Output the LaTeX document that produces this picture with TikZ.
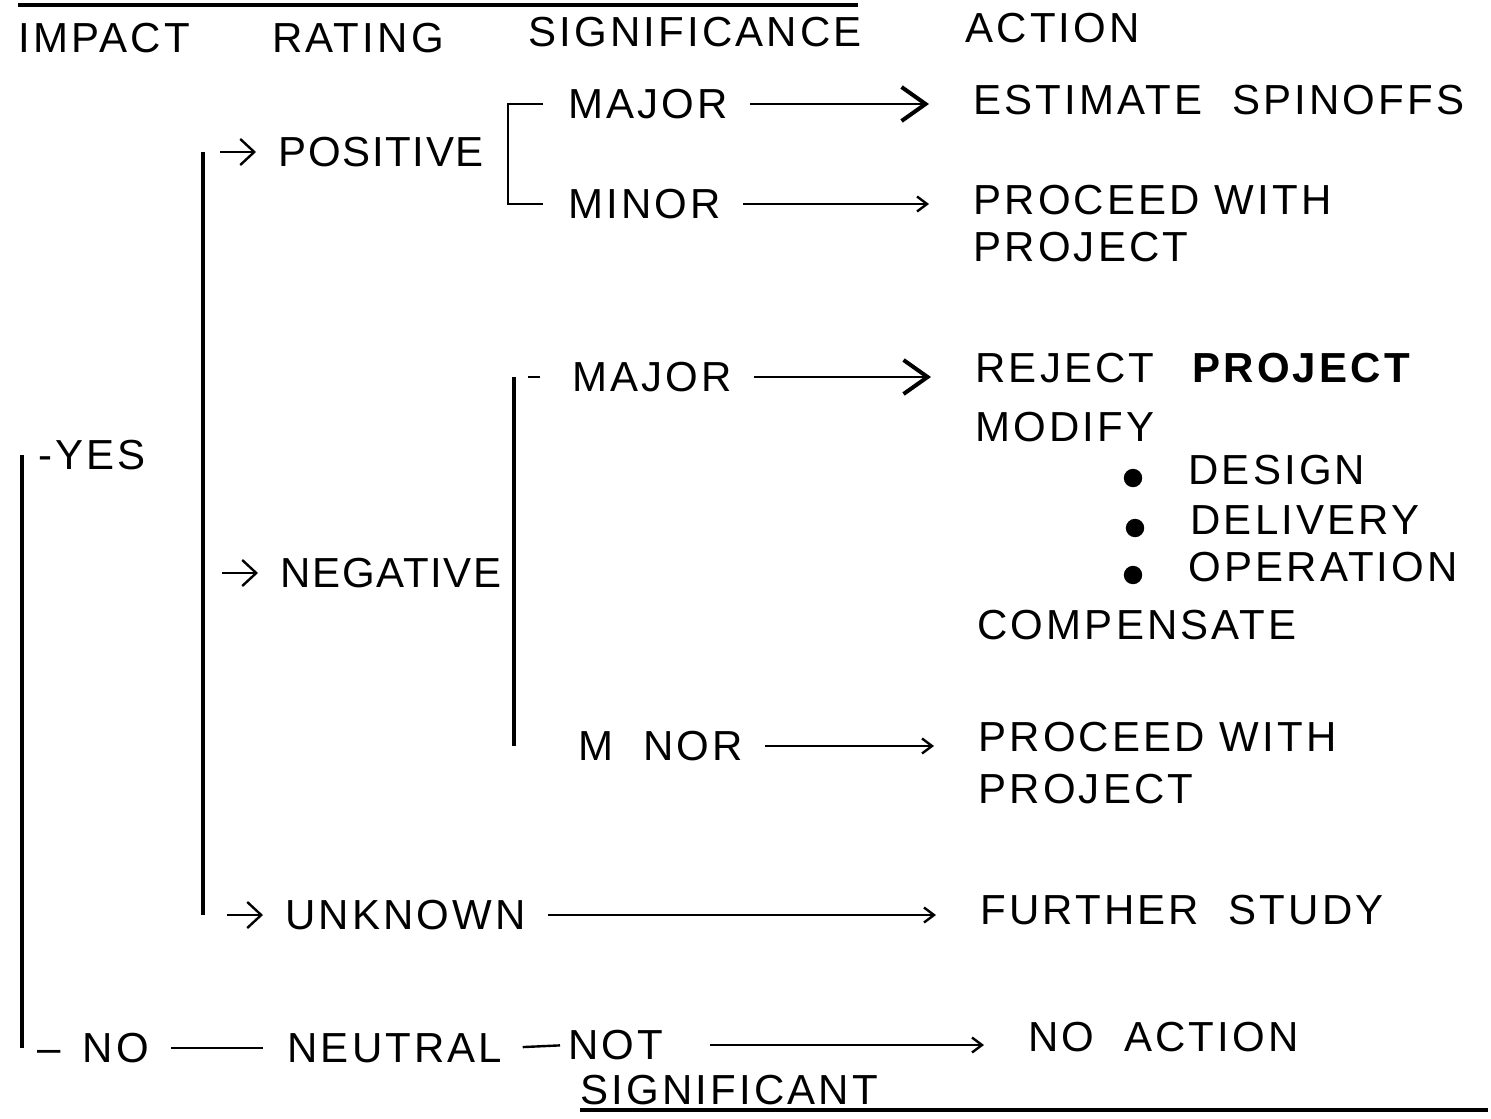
\documentclass[tikz,border=0pt]{standalone}
\usepackage{fontspec}
\setmainfont[LetterSpace=7.5]{Liberation Sans}
\usetikzlibrary{arrows.meta,positioning}
\newcommand{\lblsize}{\fontsize{21pt}{25pt}\selectfont}
\tikzset{
  lbl/.style={anchor=west, inner sep=0pt, font=\lblsize},
  tightlbl/.style={lbl, font=\lblsize\addfontfeature{LetterSpace=4}},
  bar/.style={line width=1.8pt},
  rule/.style={line width=1.6pt},
  link/.style={line width=1.2pt, shorten <=11pt, shorten >=22pt},
  bigarr/.style={link, -{Straight Barb[length=12pt,width=17pt,line width=2pt]}},
  smallarr/.style={link, -{Straight Barb[length=5pt,width=7.5pt]}},
  tinyarr/.style={line width=1.2pt, -{Straight Barb[length=7pt,width=13pt]}},
}

\begin{document}
\begin{tikzpicture}[x=0.5pt, y=-0.5pt]
  \useasboundingbox (0,0) rectangle (1491,1118);

  % column heads
  \draw[rule] (18,5) -- (858,5);
  \node[lbl] (himpact) at (18,38) {IMPACT};
  \node[lbl] (hrating) at (272,38) {RATING};
  \node[lbl] (hsignif) at (528,32) {SIGNIFICANCE};
  \node[lbl] (haction) at (965,28) {ACTION};

  % impact
  \node[lbl] (yes) at (38,455) {-YES};
  \node[lbl] (no) at (37,1048) {\textendash\ \,NO};

  % rating
  \node[tightlbl] (pos) at (278,152) {POSITIVE};
  \node[tightlbl] (neg) at (280,573) {NEGATIVE};
  \node[lbl] (unk) at (285,915) {UNKNOWN};
  \node[lbl] (neu) at (287,1048) {NEUTRAL};

  % significance
  \node[lbl] (maj1) at (568,104) {MAJOR};
  \node[lbl] (min1) at (568,204) {MINOR};
  \node[lbl] (maj2) at (572,377) {MAJOR};
  \node[lbl] (min2) at (578,746) {M\ \ NOR};
  \node[lbl] (nsig) at (568,1045) {NOT};
  \node[lbl] (sig) at (580,1090) {SIGNIFICANT};

  % action
  \node[lbl] (est) at (973,100) {ESTIMATE\ \ SPINOFFS};
  \node[lbl] (proc1) at (973,200) {PROCEED WITH};
  \node[lbl, below=8.5pt of proc1.south west, anchor=north west] (proj1) {PROJECT};
  \node[lbl] (rej) at (975,368) {REJECT};
  \node[lbl, font=\lblsize\bfseries] (rejp) at (1192,368) {PROJECT};
  \node[lbl] (mod) at (975,427) {MODIFY};
  \foreach \n/\t/\x/\y in {des/DESIGN/1188/470, del/DELIVERY/1190/520, ope/OPERATION/1188/567}
    {\node[lbl] (\n) at (\x,\y) {\t};
     \fill ([xshift=-27.5pt,yshift=-4pt]\n.west) circle (4.6pt);}
  \node[lbl] (comp) at (977,625) {COMPENSATE};
  \node[lbl] (proc2) at (978,737) {PROCEED WITH};
  \node[lbl, below=10.5pt of proc2.south west, anchor=north west] (proj2) {PROJECT};
  \node[lbl] (furth) at (980,910) {FURTHER\ \ STUDY};
  \node[lbl] (noact) at (1028,1037) {NO\ \ ACTION};

  % bars
  \draw[bar] ([xshift=-8pt]yes.west) -- ([xshift=-8pt]yes.west |- no.west);
  \draw[bar] ([xshift=-37.5pt]pos.west) -- ([xshift=-37.5pt]pos.west |- unk.west);
  \foreach \r in {pos, neg, unk}
    \draw[tinyarr] ([xshift=-29pt]\r.west) -- ([xshift=-11pt]\r.west);
  \draw[line width=1.2pt] ([xshift=-12.5pt]maj1.west) -- ++(-35,0) |- ([xshift=-12.5pt]min1.west);
  \draw[bar] ([xshift=-29pt]maj2.west) -- ([xshift=-29pt]maj2.west |- min2.west);
  \draw[line width=1.4pt] ([xshift=-22pt]maj2.west) -- ++(12,0);

  % arrows to actions
  \draw[bigarr] (maj1.east) -- (maj1.east -| est.west);
  \draw[smallarr] (min1.east) -- (min1.east -| proc1.west);
  \draw[bigarr] (maj2.east) -- (maj2.east -| rej.west);
  \draw[smallarr] (min2.east) -- (min2.east -| proc2.west);
  \draw[smallarr] (unk.east) -- (unk.east -| furth.west);
  \draw[smallarr, shorten <=23pt] (nsig.east) -- (nsig.east -| noact.west);
  \draw[link, shorten >=12pt] (no.east) -- (neu.west);
  \draw[link, shorten <=10pt, shorten >=4pt] (neu.east) -- (nsig.west);

  \draw[rule] (580,1110) -- (1488,1110);
\end{tikzpicture}
\end{document}
